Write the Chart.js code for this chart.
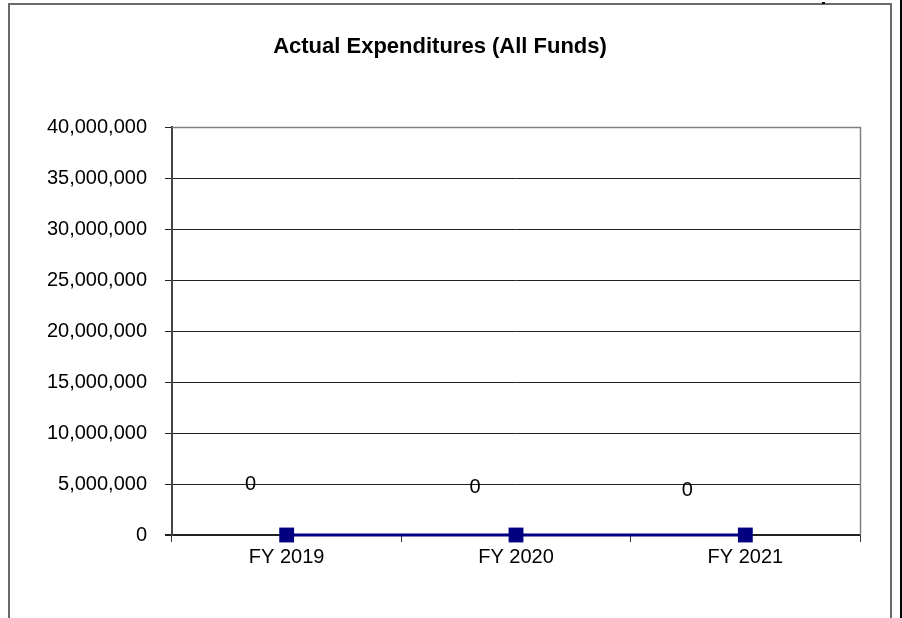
<!DOCTYPE html>
<html>
<head>
<meta charset="utf-8">
<script src="https://cdn.jsdelivr.net/npm/chart.js@4/dist/chart.umd.min.js"></script>
<style>
html,body{margin:0;padding:0;background:#fff;}
#wrap{width:902px;height:618px;position:relative;}
</style>
</head>
<body>
<div id="wrap"><canvas id="c" width="902" height="618"></canvas></div>
<script>
const categories = ["FY 2019", "FY 2020", "FY 2021"];
const expenditures = [0, 0, 0];
const dataLabels = ["0", "0", "0"];
const yTickStep = 5000000;
const yMax = 40000000;

const FONT = "Arial, 'Liberation Sans', sans-serif";

const frame = {
  id: 'frame',
  beforeDraw(chart) {
    const ctx = chart.ctx;
    ctx.save();
    ctx.fillStyle = '#fff';
    ctx.fillRect(0, 0, chart.width, chart.height);
    ctx.strokeStyle = '#6a6a6a';
    ctx.lineWidth = 2;
    ctx.beginPath();
    ctx.moveTo(9, 618);
    ctx.lineTo(9, 4);
    ctx.lineTo(891, 4);
    ctx.lineTo(891, 618);
    ctx.stroke();
    ctx.fillStyle = '#000';
    ctx.fillRect(900, 0, 2, 618);
    ctx.fillRect(822, 2, 3, 2);
    ctx.restore();
  },
  afterDraw(chart) {
    const ctx = chart.ctx;
    const a = chart.chartArea;
    ctx.save();
    ctx.strokeStyle = '#808080';
    ctx.lineWidth = 1.5;
    ctx.beginPath();
    ctx.moveTo(Math.round(a.left), Math.round(a.top) + 0.5);
    ctx.lineTo(Math.round(a.right) + 0.5, Math.round(a.top) + 0.5);
    ctx.lineTo(Math.round(a.right) + 0.5, Math.round(a.bottom));
    ctx.stroke();
    // data labels
    const offsets = chart.options.plugins.frame.labelOffsets;
    const meta = chart.getDatasetMeta(0);
    ctx.fillStyle = '#000';
    ctx.font = '20px ' + FONT;
    ctx.textAlign = 'center';
    ctx.textBaseline = 'middle';
    meta.data.forEach((pt, i) => {
      const o = offsets[i];
      ctx.fillText(dataLabels[i], pt.x + o[0], pt.y + o[1]);
    });
    ctx.restore();
  }
};

new Chart(document.getElementById('c'), {
  type: 'line',
  data: {
    labels: categories,
    datasets: [{
      data: expenditures,
      borderColor: '#000080',
      backgroundColor: '#000080',
      borderWidth: 3,
      pointStyle: 'rect',
      pointRadius: 10.5,
      pointHoverRadius: 10.5,
      pointBorderWidth: 0,
      tension: 0,
      clip: false
    }]
  },
  options: {
    responsive: false,
    animation: false,
    events: [],
    layout: { padding: { left: 20, right: 42, top: 0, bottom: 0 } },
    plugins: {
      legend: { display: false },
      tooltip: { enabled: false },
      title: {
        display: true,
        text: 'Actual Expenditures (All Funds)',
        color: '#000',
        font: { family: FONT, size: 22, weight: 'bold', lineHeight: 1.2 },
        padding: { top: 34, bottom: 67 }
      },
      frame: { labelOffsets: [[-36, -51], [-41, -48], [-58, -45]] }
    },
    scales: {
      x: {
        offset: true,
        grid: { offset: true, drawOnChartArea: false, drawTicks: true, tickLength: 7, color: '#333' },
        border: { display: false },
        ticks: { color: '#000', font: { family: FONT, size: 20 }, padding: 3, maxRotation: 0 },
        afterFit(s) { s.height = 83; }
      },
      y: {
        min: 0,
        max: yMax,
        grid: {
          color: (c) => c.tick && c.tick.value === 0 ? '#222' : '#222',
          lineWidth: (c) => c.tick && c.tick.value === 0 ? 2 : 1,
          tickLength: 7,
          drawTicks: true
        },
        border: { display: true, color: '#444', width: 2 },
        ticks: {
          stepSize: yTickStep,
          color: '#000',
          font: { family: FONT, size: 20 },
          padding: 18,
          callback: v => Number(v).toLocaleString('en-US')
        },
        afterFit(s) { s.width = 152; }
      }
    }
  },
  plugins: [frame]
});
</script>
</body>
</html>
